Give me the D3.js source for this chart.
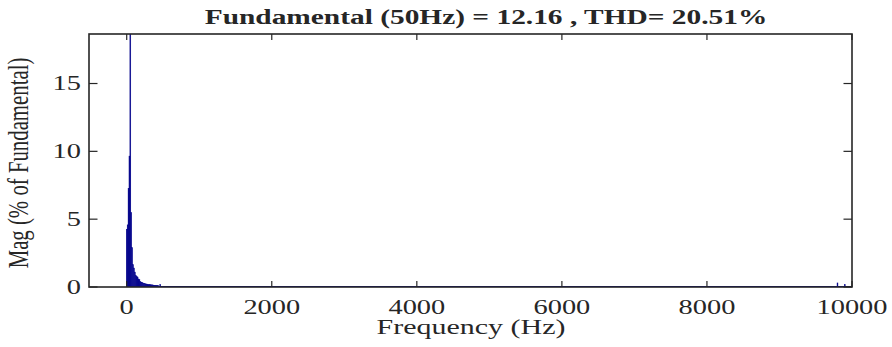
<!DOCTYPE html>
<html>
<head>
<meta charset="utf-8">
<script src="https://cdn.jsdelivr.net/npm/d3@7/dist/d3.min.js"></script>
<style>
  html, body { margin: 0; padding: 0; background: #fff; }
  svg { display: block; }
  text { font-family: "Liberation Serif", "Times New Roman", serif; fill: #262626; }
</style>
</head>
<body>
<svg id="chart" width="892" height="347"></svg>
<script>
// FFT spectrum, 12.5 Hz bin spacing, magnitude in % of the 50 Hz fundamental
const binFreq = [0, 12.5, 25, 37.5, 50, 62.5, 75, 87.5, 100, 112.5, 125, 137.5, 150,
  162.5, 175, 187.5, 200, 212.5, 225, 237.5, 250, 262.5, 275, 287.5, 300, 312.5,
  325, 337.5, 350, 362.5, 375, 387.5, 400, 412.5, 425, 437.5, 450, 462.5,
  9800, 9900];
const binMag = [4.26, 4.58, 7.28, 9.65, 100, 5.5, 2.9, 1.64, 1.4, 1.1, 0.83, 0.78, 0.73,
  0.59, 0.54, 0.41, 0.37, 0.34, 0.3, 0.24, 0.24, 0.22, 0.22, 0.2, 0.17, 0.17,
  0.17, 0.16, 0.16, 0.15, 0.12, 0.12, 0.11, 0.1, 0.1, 0.09, 0.04, 0.2,
  0.3, 0.18];
const binStep = 12.5;
const freqMax = 10000;

const xTicks = [0, 2000, 4000, 6000, 8000, 10000];
const yTicks = [0, 5, 10, 15];

const titleText = "Fundamental (50Hz) = 12.16 , THD= 20.51%";
const xLabel = "Frequency (Hz)";
const yLabel = "Mag (% of Fundamental)";

const box = { left: 89, right: 852, top: 34, bottom: 287 };
const stretch = 1.42;   // wide figure aspect: glyphs drawn horizontally stretched
const axisColor = "#262626";
const barColor = "#00008b";

const svg = d3.select("#chart");

const x = d3.scaleLinear().domain([-520, freqMax]).range([box.left, box.right]);
const y = d3.scaleLinear().domain([0, 18.65]).range([box.bottom, box.top]);

svg.append("clipPath").attr("id", "plotClip")
  .append("rect")
  .attr("x", box.left).attr("y", box.top)
  .attr("width", box.right - box.left).attr("height", box.bottom - box.top);

const bins = binFreq.map((f, i) => ({ f, m: binMag[i] }));

const plot = svg.append("g").attr("clip-path", "url(#plotClip)");

// bars (thin outline in the fill colour keeps neighbouring sub-pixel bars solid)
plot.selectAll("rect.bar")
  .data(bins)
  .join("rect")
  .attr("class", "bar")
  .attr("x", d => x(d.f - binStep / 2))
  .attr("width", d => x(d.f + binStep / 2) - x(d.f - binStep / 2))
  .attr("y", d => y(d.m))
  .attr("height", d => y(0) - y(d.m))
  .attr("fill", barColor)
  .attr("stroke", barColor)
  .attr("stroke-width", 0.45);

// axes frame
svg.append("rect")
  .attr("x", box.left).attr("y", box.top)
  .attr("width", box.right - box.left).attr("height", box.bottom - box.top)
  .attr("fill", "none").attr("stroke", axisColor).attr("stroke-width", 1.6);

// bar baseline across the full frequency span
plot.append("line")
  .attr("x1", x(0)).attr("x2", x(freqMax))
  .attr("y1", y(0) - 0.3).attr("y2", y(0) - 0.3)
  .attr("stroke", "#0000a8").attr("stroke-width", 1.6);

// inward ticks on all four sides
const xTickLen = 6, yTickLen = 8.5;
const tickG = svg.append("g").attr("stroke", axisColor).attr("stroke-width", 1.2);
xTicks.forEach(t => {
  tickG.append("line").attr("x1", x(t)).attr("x2", x(t))
    .attr("y1", box.bottom).attr("y2", box.bottom - xTickLen);
  tickG.append("line").attr("x1", x(t)).attr("x2", x(t))
    .attr("y1", box.top).attr("y2", box.top + xTickLen);
});
yTicks.forEach(t => {
  tickG.append("line").attr("x1", box.left).attr("x2", box.left + yTickLen)
    .attr("y1", y(t)).attr("y2", y(t));
  tickG.append("line").attr("x1", box.right).attr("x2", box.right - yTickLen)
    .attr("y1", y(t)).attr("y2", y(t));
});

// tick labels
svg.append("g").selectAll("text")
  .data(xTicks)
  .join("text")
  .attr("transform", d => `translate(${x(d)},314) scale(${stretch},1)`)
  .attr("text-anchor", "middle")
  .attr("font-size", 20)
  .text(d => d);

svg.append("g").selectAll("text")
  .data(yTicks)
  .join("text")
  .attr("transform", d => `translate(81,${y(d)}) scale(${stretch},1)`)
  .attr("text-anchor", "end")
  .attr("dy", "0.33em")
  .attr("font-size", 20)
  .text(d => d);

// axis labels and title
svg.append("text")
  .attr("transform", `translate(471,334) scale(1.5,1)`)
  .attr("text-anchor", "middle")
  .attr("font-size", 20)
  .text(xLabel);

svg.append("text")
  .attr("transform", `translate(28,163) scale(${stretch},1) rotate(-90)`)
  .attr("text-anchor", "middle")
  .attr("font-size", 20.8)
  .text(yLabel);

svg.append("text")
  .attr("transform", `translate(486,24) scale(1.47,1)`)
  .attr("text-anchor", "middle")
  .attr("font-size", 20)
  .attr("font-weight", "bold")
  .attr("fill", "#000")
  .text(titleText);
</script>
</body>
</html>
